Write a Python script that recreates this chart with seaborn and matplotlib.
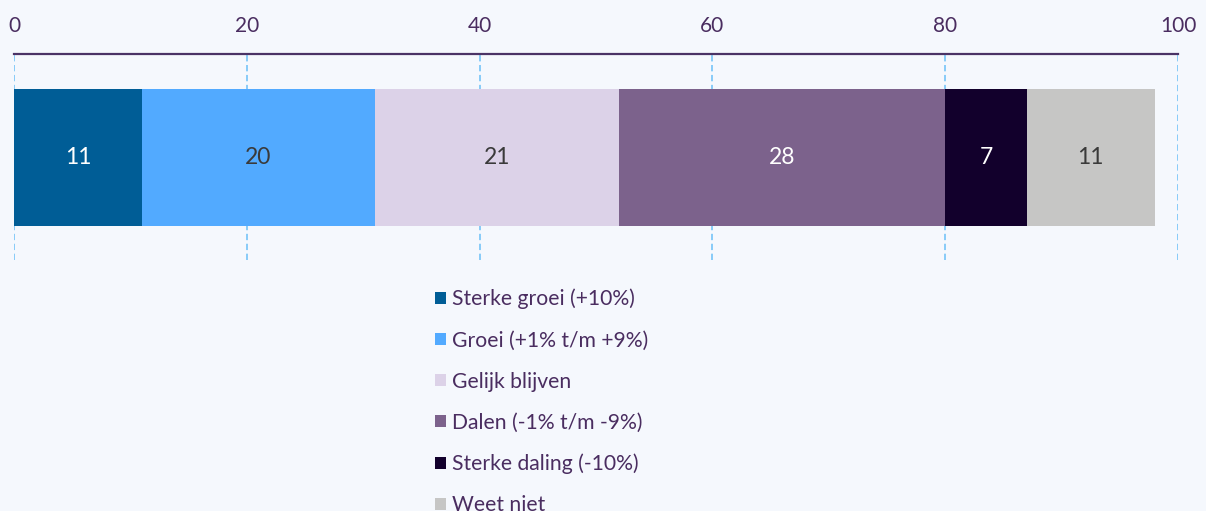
import numpy as np
import pandas as pd
import matplotlib.pyplot as plt
import seaborn as sns
from matplotlib.patches import Patch

categories = ['Sterke groei (+10%)', 'Groei (+1% t/m +9%)', 'Gelijk blijven',
              'Dalen (-1% t/m -9%)', 'Sterke daling (-10%)', 'Weet niet']
values = [11, 20, 21, 28, 7, 11]
colors = ['#005d96', '#52aaff', '#dcd2e8', '#7c628c', '#12002c', '#c6c6c5']
label_colors = ['white', '#3a3a3a', '#3a3a3a', 'white', 'white', '#3a3a3a']
ticks = [0, 20, 40, 60, 80, 100]

bg = '#f5f8fd'
text_col = '#4a2d60'

sns.set_theme(style='white')
plt.rcParams['font.family'] = ['Lato', 'DejaVu Sans']

df = pd.DataFrame({'cat': categories, 'value': values})
df['end'] = df['value'].cumsum()
df['start'] = df['end'] - df['value']
df['row'] = ''

fig = plt.figure(figsize=(12.06, 5.11), dpi=100, facecolor=bg)
ax = fig.add_axes([0.0116, 0.491, 0.9652, 0.4032])
ax.set_facecolor(bg)

# stacked bar: draw cumulative totals from the back to the front
for i in reversed(range(len(df))):
    sub = df.iloc[[i]]
    sns.barplot(data=sub, x='end', y='row', color=colors[i], orient='h',
                width=0.665, saturation=1, linewidth=0, ax=ax, zorder=2)

for i, r in df.iterrows():
    ax.text((r['start'] + r['end']) / 2, 0, str(r['value']), ha='center', va='center',
            fontsize=16.5, color=label_colors[i], zorder=3)

ax.set_xlim(0, 100)
ax.set_ylim(0.5, -0.5)
ax.set_xticks(ticks)
ax.xaxis.tick_top()
ax.tick_params(axis='x', length=0, pad=13, labelsize=15, labelcolor=text_col)
ax.set_yticks([])
ax.set_xlabel('')
ax.set_ylabel('')
for x in ticks:
    ax.axvline(x, color='#7fc8f8', ls=(0, (3.5, 2)), lw=1.3, zorder=1)
for s in ['left', 'right', 'bottom']:
    ax.spines[s].set_visible(False)
ax.spines['top'].set_color('#4b3366')
ax.spines['top'].set_linewidth(1.6)
ax.spines['top'].set_zorder(4)

handles = [Patch(facecolor=c, edgecolor='none') for c in colors]
fig.legend(handles, categories, loc='upper left', bbox_to_anchor=(0.3605, 0.435),
           frameon=False, fontsize=15.2, labelcolor=text_col,
           handlelength=0.52, handleheight=0.52, handletextpad=0.3,
           labelspacing=1.0, borderpad=0, borderaxespad=0)

plt.savefig('out.png', dpi=100, facecolor=bg)
